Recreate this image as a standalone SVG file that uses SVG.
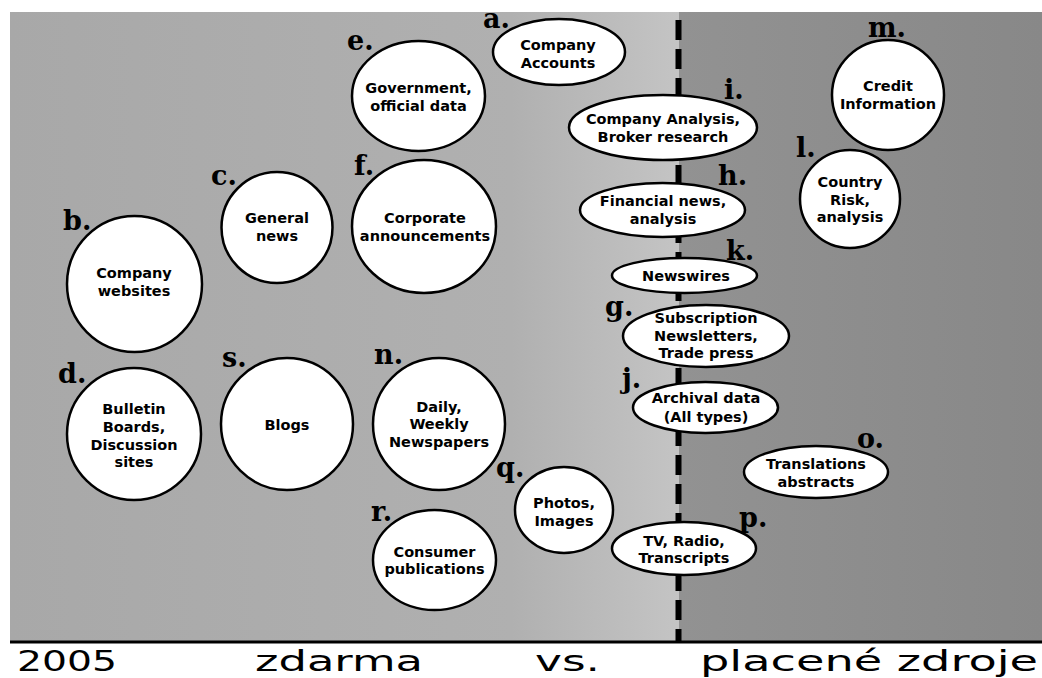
<svg xmlns="http://www.w3.org/2000/svg" width="1042" height="678" viewBox="0 0 1042 678">
<defs>
<linearGradient id="leftBg" x1="10" y1="0" x2="679" y2="0" gradientUnits="userSpaceOnUse">
<stop offset="0" stop-color="#a8a8a8"/>
<stop offset="0.75" stop-color="#b0b0b0"/>
<stop offset="1" stop-color="#c4c4c4"/>
</linearGradient>
<linearGradient id="rightBg" x1="679" y1="0" x2="1042" y2="0" gradientUnits="userSpaceOnUse">
<stop offset="0" stop-color="#929292"/>
<stop offset="1" stop-color="#888888"/>
</linearGradient>
</defs>
<style>
.node{fill:#ffffff;stroke:#000000;stroke-width:2.5}
.t{font-family:"DejaVu Sans","Verdana",sans-serif;font-weight:bold;font-size:14.5px;fill:#000;text-anchor:middle}
.lbl{font-family:"DejaVu Serif","Liberation Serif",serif;font-weight:bold;font-size:27px;fill:#000}
.big{font-family:"DejaVu Sans","Liberation Sans",sans-serif;font-size:28px;fill:#000}
</style>
<rect x="0" y="0" width="1042" height="678" fill="#ffffff"/>
<rect x="10" y="12" width="669" height="629" fill="url(#leftBg)"/>
<rect x="679" y="12" width="363" height="629" fill="url(#rightBg)"/>
<g id="divider">
<line x1="678.5" y1="20" x2="678.5" y2="641" stroke="#000" stroke-width="6" stroke-dasharray="20 9"/>
<line x1="10" y1="642" x2="1042" y2="642" stroke="#000" stroke-width="3"/>
</g>
<g id="connectors"></g>
<g id="node-a"><ellipse class="node" cx="559" cy="52" rx="66" ry="33"/><text class="t" x="558" y="50">Company</text><text class="t" x="558" y="68">Accounts</text><text class="lbl" x="483" y="28">a.</text></g>
<g id="node-e"><ellipse class="node" cx="418.5" cy="96" rx="66.5" ry="55"/><text class="t" x="418.5" y="93">Government,</text><text class="t" x="418.5" y="111">official data</text><text class="lbl" x="347" y="50">e.</text></g>
<g id="node-c"><ellipse class="node" cx="277" cy="227.5" rx="55.5" ry="55.5"/><text class="t" x="277" y="223">General</text><text class="t" x="277" y="241">news</text><text class="lbl" x="211" y="185">c.</text></g>
<g id="node-f"><ellipse class="node" cx="424" cy="226.5" rx="72" ry="66.5"/><text class="t" x="425" y="223">Corporate</text><text class="t" x="425" y="241">announcements</text><text class="lbl" x="354" y="175">f.</text></g>
<g id="node-b"><ellipse class="node" cx="134.5" cy="284" rx="67.5" ry="68"/><text class="t" x="134" y="278">Company</text><text class="t" x="134" y="296">websites</text><text class="lbl" x="63" y="230">b.</text></g>
<g id="node-m"><ellipse class="node" cx="888" cy="95" rx="56" ry="55"/><text class="t" x="888" y="91">Credit</text><text class="t" x="888" y="109">Information</text><text class="lbl" x="868" y="37">m.</text></g>
<g id="node-i"><ellipse class="node" cx="663" cy="127.5" rx="94" ry="32.5"/><text class="t" x="663" y="124">Company Analysis,</text><text class="t" x="663" y="142">Broker research</text><text class="lbl" x="724" y="99">i.</text></g>
<g id="node-h"><ellipse class="node" cx="662.5" cy="210" rx="82.5" ry="27"/><text class="t" x="663" y="206">Financial news,</text><text class="t" x="663" y="224">analysis</text><text class="lbl" x="718" y="185">h.</text></g>
<g id="node-l"><ellipse class="node" cx="850" cy="199" rx="50" ry="49"/><text class="t" x="850" y="187">Country</text><text class="t" x="850" y="205">Risk,</text><text class="t" x="850" y="222">analysis</text><text class="lbl" x="796" y="157">l.</text></g>
<g id="node-k"><ellipse class="node" cx="684.5" cy="275.5" rx="72.5" ry="17.5"/><text class="t" x="686" y="281">Newswires</text><text class="lbl" x="726" y="260">k.</text></g>
<g id="node-g"><ellipse class="node" cx="706" cy="336" rx="83" ry="31"/><text class="t" x="706" y="323">Subscription</text><text class="t" x="706" y="341">Newsletters,</text><text class="t" x="706" y="358">Trade press</text><text class="lbl" x="605" y="316">g.</text></g>
<g id="node-j"><ellipse class="node" cx="705.5" cy="407.5" rx="72.5" ry="25.5"/><text class="t" x="706" y="403">Archival data</text><text class="t" x="706" y="422">(All types)</text><text class="lbl" x="622" y="388">j.</text></g>
<g id="node-o"><ellipse class="node" cx="816" cy="472" rx="72" ry="26"/><text class="t" x="816" y="469">Translations</text><text class="t" x="816" y="487">abstracts</text><text class="lbl" x="857" y="448">o.</text></g>
<g id="node-q"><ellipse class="node" cx="564" cy="510" rx="49" ry="43"/><text class="t" x="564" y="508">Photos,</text><text class="t" x="564" y="526">Images</text><text class="lbl" x="496" y="477">q.</text></g>
<g id="node-p"><ellipse class="node" cx="684" cy="548.5" rx="72" ry="26.5"/><text class="t" x="684" y="546">TV, Radio,</text><text class="t" x="684" y="563">Transcripts</text><text class="lbl" x="739" y="527">p.</text></g>
<g id="node-d"><ellipse class="node" cx="134" cy="434" rx="67" ry="66"/><text class="t" x="134" y="414">Bulletin</text><text class="t" x="134" y="432">Boards,</text><text class="t" x="134" y="450">Discussion</text><text class="t" x="134" y="467">sites</text><text class="lbl" x="58" y="383">d.</text></g>
<g id="node-s"><ellipse class="node" cx="287" cy="424" rx="66" ry="66"/><text class="t" x="287" y="430">Blogs</text><text class="lbl" x="222" y="367">s.</text></g>
<g id="node-n"><ellipse class="node" cx="439" cy="424" rx="66" ry="66"/><text class="t" x="439" y="412">Daily,</text><text class="t" x="439" y="429">Weekly</text><text class="t" x="439" y="447">Newspapers</text><text class="lbl" x="374" y="364">n.</text></g>
<g id="node-r"><ellipse class="node" cx="434.5" cy="560" rx="61.5" ry="50"/><text class="t" x="434.5" y="557">Consumer</text><text class="t" x="434.5" y="574">publications</text><text class="lbl" x="371" y="521">r.</text></g>
<g id="footer">
<text class="big" x="17" y="671" textLength="100" lengthAdjust="spacingAndGlyphs">2005</text>
<text class="big" x="255" y="671" textLength="168" lengthAdjust="spacingAndGlyphs">zdarma</text>
<text class="big" x="535" y="671" textLength="65" lengthAdjust="spacingAndGlyphs">vs.</text>
<text class="big" x="700" y="671" textLength="338" lengthAdjust="spacingAndGlyphs">placené zdroje</text>
</g>
</svg>
